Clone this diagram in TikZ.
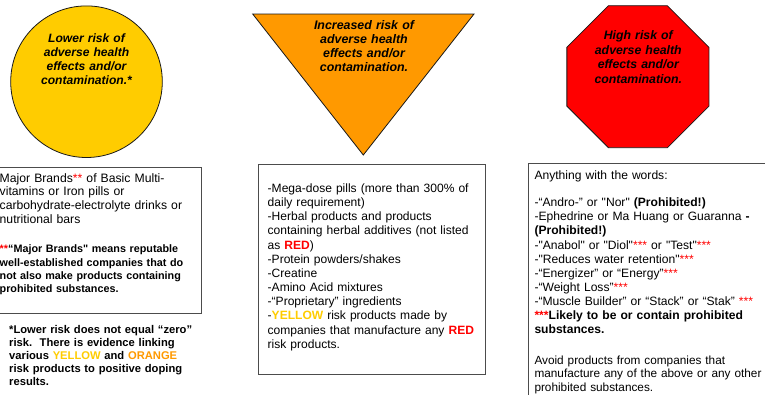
\documentclass[tikz,border=0pt]{standalone}
\usepackage{fontspec}
\setmainfont{Liberation Sans}[Ligatures=TeXOff]
\usetikzlibrary{calc}
\definecolor{lowyellow}{HTML}{FFCC00}
\definecolor{midorange}{HTML}{FF9900}
\definecolor{highred}{HTML}{FF0000}
\newcommand{\redstars}[1]{\textcolor{highred}{#1}}
\tikzset{
	sign/.style = {draw=black!90, line width=0.8pt},
	signtext/.style = {anchor=base, inner sep=0pt, text width=140pt, align=center},
	listbox/.style = {draw=black!70, line width=1pt},
	listtext/.style = {anchor=base west, inner sep=0pt, text width=260pt, align=left},
}

\begin{document}
\begin{tikzpicture}[x=1pt, y=-1pt]
	\useasboundingbox (0,0) rectangle (765,394);
	\clip (0,0) rectangle (765,394);
	\coordinate (lowrisk) at (86.5,81.7);
	\coordinate (highrisk) at (637.9,76.7);
	\draw[sign, fill=lowyellow] (lowrisk) circle[radius=75.8];
	\draw[sign, fill=midorange] (252.7,14) coordinate (midleft) -- (474,14) coordinate (midright) -- (363.3,155) coordinate (midrisk) -- cycle;
	\draw[sign, fill=highred] ($(highrisk)+(22.5:76.9)$) \foreach \a in {67.5,112.5,...,337.5} {-- ($(highrisk)+(\a:76.9)$)} -- cycle;
	\node[signtext, font=\fontsize{12.1}{13.8}\selectfont\bfseries\itshape] (lowtext) at (86.5,42.7) {Lower risk of\\adverse health\\effects and/or\\contamination.*};
	\node[signtext, font=\fontsize{12.4}{14.1}\selectfont\bfseries\itshape] (midtext) at (364,29.3) {Increased risk of\\adverse health\\effects and/or\\contamination.};
	\node[signtext, font=\fontsize{12.3}{14.7}\selectfont\bfseries\itshape] (hightext) at (638.3,39.3) {High risk of\\adverse health\\effects and/or\\contamination.};

	\draw[listbox] (-8,167.3) rectangle (201,313.3);
	\node[listtext, font=\fontsize{12.2}{13.8}\selectfont] (lowlist) at (-0.5,182) {Major Brands\redstars{**} of Basic Multi-\\vitamins or Iron pills or\\carbohydrate-electrolyte drinks or\\nutritional bars};
	\node[listtext, font=\fontsize{10.8}{13.3}\selectfont\bfseries] (lowbrands) at (-0.5,252.7) {\redstars{**}“Major Brands" means reputable\\well-established companies that do\\not also make products containing\\prohibited substances.};
	\node[listtext, font=\fontsize{11.2}{13.1}\selectfont\bfseries] (lownote) at (9,333.3) {*Lower risk does not equal “zero”\\risk.\ \ There is evidence linking\\various \textcolor{lowyellow}{YELLOW} and \textcolor{midorange}{ORANGE}\\risk products to positive doping\\results.};

	\draw[listbox] (258.5,164) rectangle (485.5,374);
	\node[listtext, font=\fontsize{12.05}{14.18}\selectfont] (midlist) at (267.5,192.3) {-Mega-dose pills (more than 300\% of\\daily requirement)\\-Herbal products and products\\containing herbal additives (not listed\\as \textcolor{highred}{\textbf{RED}})\\-Protein powders/shakes\\-Creatine\\-Amino Acid mixtures\\-“Proprietary” ingredients\\-\textcolor{lowyellow}{\textbf{YELLOW}} risk products made by\\companies that manufacture any \textcolor{highred}{\textbf{RED}}\\risk products.};

	\draw[listbox] (528,163) rectangle (780,410);
	\node[listtext, font=\fontsize{12.1}{14.1}\selectfont] (highhead) at (534.3,179.3) {Anything with the words:};
	\node[listtext, font=\fontsize{12.1}{14.14}\selectfont] (highlist) at (534.3,206.7) {-“Andro-” or "Nor" \textbf{(Prohibited!)}\\-Ephedrine or Ma Huang or Guaranna \textbf{-}\\\textbf{(Prohibited!)}\\-"Anabol" or "Diol"\redstars{***} or "Test"\redstars{***}\\-"Reduces water retention"\redstars{***}\\-“Energizer” or “Energy”\redstars{***}\\-“Weight Loss”\redstars{***}\\-“Muscle Builder” or “Stack” or “Stak” \redstars{***}\\\textbf{\redstars{***}Likely to be or contain prohibited}\\\textbf{substances.}};
	\node[listtext, font=\fontsize{11.8}{13.5}\selectfont] (highavoid) at (534.3,364) {Avoid products from companies that\\manufacture any of the above or any other\\prohibited substances.};
\end{tikzpicture}
\end{document}
